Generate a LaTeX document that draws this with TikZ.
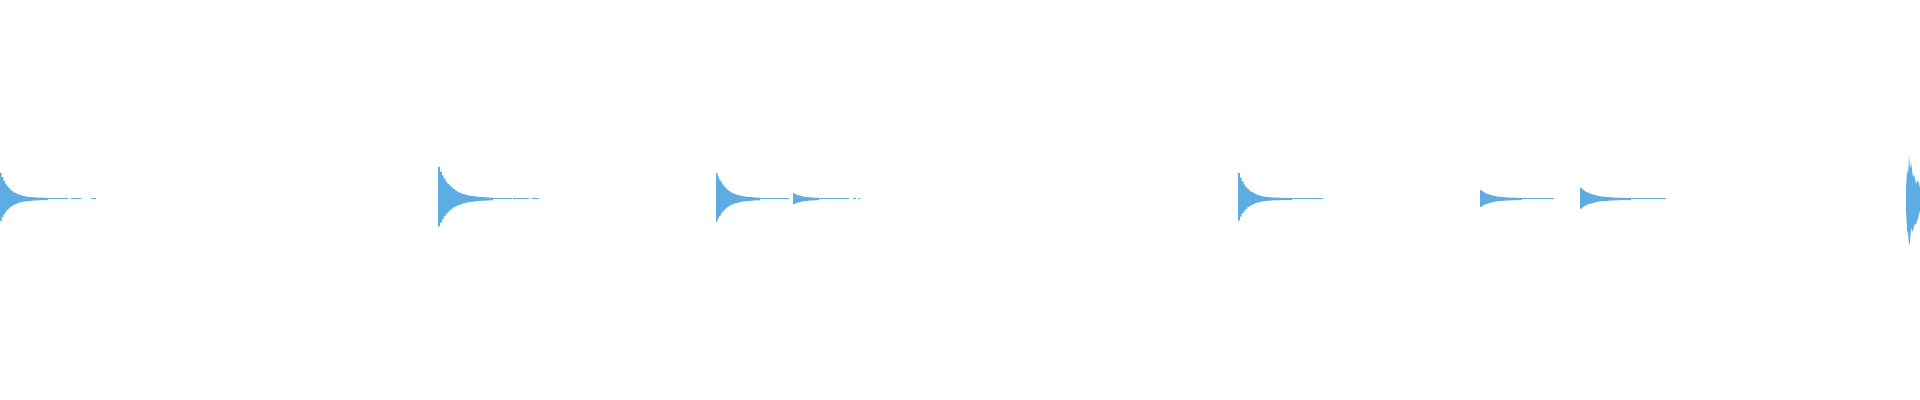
\documentclass[tikz,border=0pt]{standalone}
\usepackage{tikz}
\definecolor{wave}{RGB}{93,173,226}
\begin{document}
\begin{tikzpicture}[x=0.5pt,y=0.5pt, wavefill/.style={fill=wave,draw=none}, tail/.style={draw=wave,line width=0.5pt}]
\useasboundingbox (0,0) rectangle (1920,400);
\begin{scope}
\clip (0,0) rectangle (1920,400);
% bursts: start / amplitude / decay / thick end / tail end
\foreach \xs/\amp/\tau/\xm/\xe in {0/25/9/48/68, 438/31/12/493/512, 716/25/10/760/789, 793/5/8/819/849, 1238/25/9/1292/1323, 1480/8/10/1522/1554, 1580/10/11/1631/1666}{
  \fill[wavefill] (\xs,201) -- plot[const plot, domain=0:\xm-\xs, samples=30] ({\xs+\x},{201+1+\amp*exp(-\x/\tau)})
    -- plot[const plot, domain=\xm-\xs:0, samples=30] ({\xs+\x},{201-1-\amp*exp(-\x/\tau)}) -- cycle;
  \draw[tail] (\xm,201) -- (\xe,201);
}
% dashed ends of the tails
\draw[tail] (71,201) -- (81,201) (91,201) -- (96,201);
\draw[tail] (513,201) -- (529,201) (532,201) -- (539,201);
\draw[tail] (853,201) -- (856,201) (858,201) -- (860,201);
% last burst at the right edge
\fill[wavefill] (1906,211) -- (1907,232) -- (1908,223) -- (1909,245) -- (1910,230) -- (1911,238) -- (1913,222) -- (1914,226)
  -- (1916,216) -- (1918,220) -- (1920,212) -- (1920,190) -- (1918,182) -- (1916,176) -- (1914,175) -- (1913,168)
  -- (1911,172) -- (1910,158) -- (1909,155) -- (1908,166) -- (1907,170) -- (1906,190) -- cycle;
\end{scope}
\end{tikzpicture}
\end{document}
